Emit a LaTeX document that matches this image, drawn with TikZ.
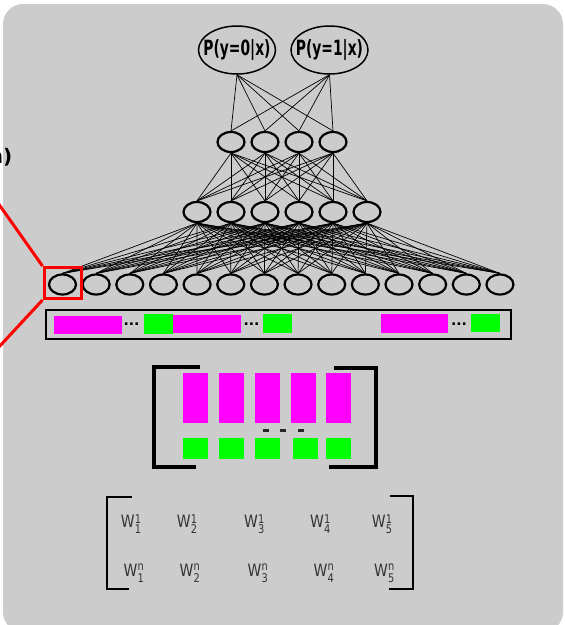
\documentclass[tikz,border=0pt]{standalone}
\usepackage{fontspec}
\usepackage{graphicx}
\usetikzlibrary{shapes.geometric}
\newfontfamily\dvs{DejaVu Sans}
\definecolor{bggray}{HTML}{CCCCCC}
\definecolor{mag}{HTML}{FF00FF}
\definecolor{grn}{HTML}{00FF00}
\newcommand\wlab[3]{\scalebox{0.82}[1]{W\kern0.3pt\rlap{\raisebox{#2}{\fontsize{12}{12}\selectfont #1}}\raisebox{-6pt}{\fontsize{12}{12}\selectfont #3}}}
\newcommand\outtxt[1]{\makebox[0pt]{\scalebox{0.66}[1]{#1}}}
\begin{document}
\begin{tikzpicture}[x=1pt,y=-1pt,
  neuron/.style={ellipse,draw=black,line width=2.2pt,minimum width=27pt,minimum height=20pt,inner sep=0pt},
  outnode/.style={ellipse,draw=black,line width=1.5pt,minimum width=77pt,minimum height=48pt,inner sep=0pt,font=\dvs\bfseries\fontsize{21}{21}\selectfont},
  link/.style={draw=black,line width=0.7pt},
  magbox/.style={fill=mag},
  grnbox/.style={fill=grn},
  bigbracket/.style={draw=black,line width=3.4pt},
  smallbracket/.style={draw=black,line width=2.6pt},
  wlabel/.style={font=\dvs\fontsize{17}{17}\selectfont,text=black!80,inner sep=0pt,anchor=base west},
  dots/.style={font=\dvs\bfseries\fontsize{14}{14}\selectfont,inner sep=0pt},
  redline/.style={draw=red,line width=3pt}]
\useasboundingbox (0,0) rectangle (565,625);
\clip (0,0) rectangle (565,625);
\fill[bggray,rounded corners=20pt] (3,4) rectangle (563,632);

% cut-off label at the left
\node[anchor=base east,font=\dvs\bfseries\fontsize{20}{20}\selectfont,inner sep=0pt] (cut) at (12.5,163) {n)};

% output layer
\node[outnode] (out0) at (237,50) {\outtxt{P(y=0|x)}};
\node[outnode] (out1) at (329.5,50) {\outtxt{P(y=1|x)}};

% hidden layers
\foreach \i in {0,...,3} \node[neuron] (b\i) at ({231+34*\i},142) {};
\foreach \i in {0,...,5} \node[neuron] (a\i) at ({197+34*\i},212) {};
% input layer
\foreach \i in {0,...,13} \node[neuron] (x\i) at ({62.5+33.65*\i},284.5) {};

% connections
\foreach \o in {0,1} \foreach \j in {0,...,3} \draw[link] (out\o.south) -- (b\j.north);
\foreach \i in {0,...,3} \foreach \j in {0,...,5} \draw[link] (b\i.south) -- (a\j.north);
\foreach \i in {0,...,5} \foreach \j in {0,...,13} \draw[link] (a\i.south) -- (x\j.north);

% red selection box
\node[draw=red,line width=3pt,minimum width=37pt,minimum height=31pt,inner sep=0pt] (sel) at (62.5,283) {};
\coordinate (redA) at (-2,203);
\coordinate (redB) at (-2,348);
\draw[redline] (sel.north west) -- (redA);
\draw[redline] (sel.south west) -- (redB);

% embedding bar
\node[draw=black,line width=2.5pt,minimum width=465pt,minimum height=29pt,inner sep=0pt] (bar) at (278.5,324.5) {};
\fill[magbox] (54,316) rectangle (122,334);
\node[dots] (d1) at (131.5,324) {...};
\fill[grnbox] (144,314) rectangle (173,334);
\fill[magbox] (173,315) rectangle (241,333);
\node[dots] (d2) at (251.5,324) {...};
\fill[grnbox] (263,314) rectangle (292,333);
\fill[magbox] (381,314) rectangle (448,333);
\node[dots] (d3) at (459,324) {...};
\fill[grnbox] (471,314) rectangle (500,332);

% middle bracketed block
\draw[bigbracket] (200,367) -- (154,367) -- (154,467) -- (196,467);
\draw[bigbracket] (334,368) -- (376,368) -- (376,467) -- (329,467);
\foreach \xa in {183,218.5,255,291,326} \fill[magbox] (\xa,373) rectangle ({\xa+25},423);
\foreach \xa in {183,219,255,293,326} \fill[grnbox] (\xa,438) rectangle ({\xa+24.5},459);
\foreach \xa in {263,280,297.5} \fill[black!85] (\xa,428.5) rectangle ({\xa+6},431.5);

% weight matrix
\draw[smallbracket] (132,497) -- (107,497) -- (107,589) -- (129,589);
\draw[smallbracket] (390,496) -- (413,496) -- (413,589) -- (389,589);
\node[wlabel] (w11) at (120.7,527) {\wlab{1}{4pt}{1}};
\node[wlabel] (w12) at (176.7,527) {\wlab{1}{4pt}{2}};
\node[wlabel] (w13) at (244,527) {\wlab{1}{4pt}{3}};
\node[wlabel] (w14) at (310,527) {\wlab{1}{4pt}{4}};
\node[wlabel] (w15) at (371.7,527) {\wlab{1}{4pt}{5}};
\node[wlabel] (wn1) at (123.3,576) {\wlab{n}{6pt}{1}};
\node[wlabel] (wn2) at (179.3,576) {\wlab{n}{6pt}{2}};
\node[wlabel] (wn3) at (247.3,576) {\wlab{n}{6pt}{3}};
\node[wlabel] (wn4) at (313.3,576) {\wlab{n}{6pt}{4}};
\node[wlabel] (wn5) at (374,576) {\wlab{n}{6pt}{5}};
\end{tikzpicture}
\end{document}
